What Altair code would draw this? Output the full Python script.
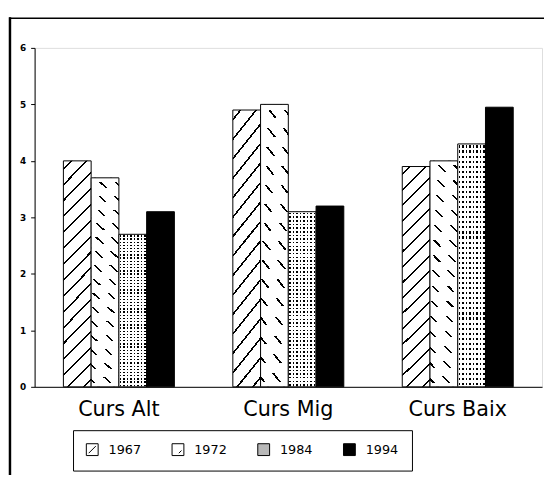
import altair as alt
import pandas as pd

# ---- data ----
groups = ["Curs Alt", "Curs Mig", "Curs Baix"]
years = ["1967", "1972", "1984", "1994"]
v1967 = [4.0, 4.9, 3.9]
v1972 = [3.7, 5.0, 4.0]
v1984 = [2.7, 3.1, 4.3]
v1994 = [3.1, 3.2, 4.95]
y_ticks = [0, 1, 2, 3, 4, 5, 6]

series = {"1967": v1967, "1972": v1972, "1984": v1984, "1994": v1994}
rows = []
for yr in years:
    for g, v in zip(groups, series[yr]):
        rows.append({"group": g, "year": yr, "value": v})
df = pd.DataFrame(rows)

FONT = "DejaVu Sans"


def stripe_stops(n, frac, on, off):
    stops = [{"offset": 0, "color": off}]
    for i in range(n):
        c = (i + 0.5) / n
        s = c - frac / (2 * n)
        e = c + frac / (2 * n)
        stops += [
            {"offset": s, "color": off},
            {"offset": s, "color": on},
            {"offset": e, "color": on},
            {"offset": e, "color": off},
        ]
    stops.append({"offset": 1, "color": off})
    return stops


CLEAR = "rgba(255,255,255,0)"
a, b = 0.1385, 1.108
g1967 = {"gradient": "linear", "x1": 0, "y1": 0, "x2": a, "y2": b,
         "stops": stripe_stops(16, 0.13, "black", "white")}
g1972 = {"gradient": "linear", "x1": 1, "y1": 0, "x2": 1 - a, "y2": b,
         "stops": stripe_stops(16, 0.14, "black", "white")}
g1972mask = {"gradient": "linear", "x1": 0, "y1": 0, "x2": 0, "y2": 1,
             "stops": stripe_stops(15, 0.45, CLEAR, "white")}
g1984 = {"gradient": "linear", "x1": 0, "y1": 0, "x2": 1, "y2": 0,
         "stops": stripe_stops(8, 0.45, "black", "white")}
g1984mask = {"gradient": "linear", "x1": 0, "y1": 0, "x2": 0, "y2": 1,
             "stops": stripe_stops(48, 0.42, CLEAR, "white")}

base = alt.Chart(df).encode(
    x=alt.X("group:N", sort=groups, title=None,
            scale=alt.Scale(paddingInner=0.345, paddingOuter=0.17),
            axis=alt.Axis(labelAngle=0, ticks=False, tickSize=0, labelPadding=12,
                          labelFont=FONT, labelFontSize=21, labelColor="black",
                          domainColor="black", domainWidth=1)),
    xOffset=alt.XOffset("year:N", scale=alt.Scale(domain=years, paddingInner=0, paddingOuter=0)),
    y=alt.Y("value:Q", title=None,
            scale=alt.Scale(domain=[0, 6], nice=False),
            axis=alt.Axis(values=y_ticks, grid=False, tickSize=4, tickColor="black",
                          domainColor="black", labelFont=FONT, labelFontSize=9,
                          labelFontWeight="bold", labelColor="black", labelPadding=5)),
)


def only(yr):
    return base.transform_filter(f"datum.year == '{yr}'")


l1967 = only("1967").mark_bar(fill=g1967, stroke="black", strokeWidth=1)
l1972a = only("1972").mark_bar(fill=g1972, strokeWidth=0)
l1972b = only("1972").mark_bar(fill=g1972mask, stroke="black", strokeWidth=1)
l1984a = only("1984").mark_bar(fill=g1984, strokeWidth=0)
l1984b = only("1984").mark_bar(fill=g1984mask, stroke="black", strokeWidth=1)
l1994 = only("1994").mark_bar(fill="black", stroke="black", strokeWidth=1)

leg = alt.Legend(title=None, orient="none", legendX=39, legendY=388,
                 direction="horizontal", columns=4, symbolSize=144,
                 symbolStrokeColor="black", symbolStrokeWidth=1,
                 labelFont=FONT, labelFontSize=13, labelColor="black",
                 labelOffset=10, columnPadding=28, padding=13,
                 strokeColor="black", fillColor="white")

shapes = ["M-1,-1H1V1H-1Z M-0.6,0.6L0.6,-0.6",
          "M-1,-1H1V1H-1Z M0.15,0.6L0.6,0.15",
          "square", "square"]

legend_layer = alt.Chart(df).transform_filter("false").mark_point(
    filled=True, opacity=1).encode(
    color=alt.Color("year:N", scale=alt.Scale(domain=years,
                    range=["white", "white", "#b8b8b8", "black"]), legend=leg),
    shape=alt.Shape("year:N", scale=alt.Scale(domain=years, range=shapes), legend=leg),
)

frame_left = alt.Chart(alt.Data(values=[{}])).mark_rule(
    color="black", strokeWidth=2.5).encode(
    x=alt.value(-25), y=alt.value(-31), y2=alt.value(460))
frame_top = alt.Chart(alt.Data(values=[{}])).mark_rule(
    color="black", strokeWidth=1.5).encode(
    x=alt.value(-26), x2=alt.value(530), y=alt.value(-30))

chart = alt.layer(
    l1967, l1972a, l1972b, l1984a, l1984b, l1994, legend_layer, frame_left, frame_top
).properties(
    width=515, height=344,
    autosize=alt.AutoSizeParams(type="none"),
    padding={"left": 27, "top": 37, "right": 2, "bottom": 86},
).configure_view(strokeWidth=0, stroke="transparent").configure_legend(
    strokeWidth=1, cornerRadius=0
).configure(background="white")

chart.save("out.html", embed_options={"renderer": "svg", "actions": False})
